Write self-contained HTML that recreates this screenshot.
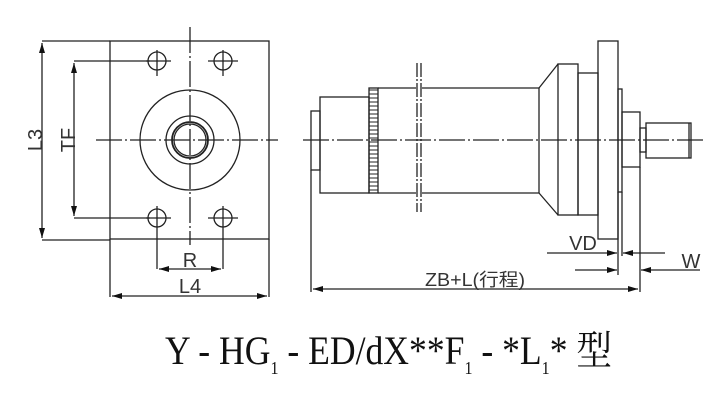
<!DOCTYPE html>
<html><head><meta charset="utf-8"><style>html,body{margin:0;padding:0;background:#fff}svg{display:block}</style></head>
<body>
<svg width="718" height="401" viewBox="0 0 718 401" xmlns="http://www.w3.org/2000/svg">
<defs>
<marker id="a" viewBox="0 0 10 6" refX="10" refY="3" markerWidth="10" markerHeight="6" markerUnits="userSpaceOnUse" orient="auto-start-reverse"><path d="M0,0 L10,3 L0,6 z" fill="#111"/></marker>
</defs>
<g stroke="#222" stroke-width="1.3" fill="none">
<rect x="110" y="41" width="159" height="198"/>
<line x1="110" y1="239" x2="110" y2="297"/>
<line x1="269" y1="239" x2="269" y2="297"/>
<line x1="42" y1="41" x2="110" y2="41"/>
<line x1="42" y1="240" x2="110" y2="240"/>
<line x1="42" y1="43" x2="42" y2="238" marker-start="url(#a)" marker-end="url(#a)"/>
<line x1="74" y1="61" x2="150" y2="61"/>
<line x1="74" y1="218" x2="150" y2="218"/>
<line x1="74" y1="63" x2="74" y2="216" marker-start="url(#a)" marker-end="url(#a)"/>
<circle cx="157" cy="61" r="9"/><circle cx="223" cy="61" r="9"/>
<circle cx="157" cy="218" r="9"/><circle cx="223" cy="218" r="9"/>
<line x1="146" y1="61" x2="171" y2="61"/><line x1="157" y1="50" x2="157" y2="76"/>
<line x1="208" y1="61" x2="238" y2="61"/><line x1="223" y1="50" x2="223" y2="76"/>
<line x1="146" y1="218" x2="171" y2="218"/><line x1="157" y1="206" x2="157" y2="269"/>
<line x1="208" y1="218" x2="238" y2="218"/><line x1="223" y1="206" x2="223" y2="269"/>
<circle cx="190" cy="140" r="50"/>
<circle cx="190" cy="140" r="24"/>
<circle cx="190" cy="140" r="18" stroke-width="1.8"/>
<circle cx="190" cy="140" r="16"/>
<line x1="190" y1="27" x2="190" y2="245" stroke-dasharray="26,3,2,3"/>
<line x1="96" y1="140" x2="278" y2="140" stroke-dasharray="26,3,2,3"/>
<line x1="159" y1="269" x2="221" y2="269" marker-start="url(#a)" marker-end="url(#a)"/>
<line x1="112" y1="296" x2="267" y2="296" marker-start="url(#a)" marker-end="url(#a)"/>
<line x1="303" y1="140" x2="705" y2="140" stroke-dasharray="26,3,2,3"/>
<rect x="311" y="111" width="9" height="59"/>
<rect x="320" y="97" width="49" height="96"/>
<rect x="369" y="88" width="9" height="105"/>
<line x1="378" y1="88" x2="416" y2="88"/><line x1="422" y1="88" x2="539" y2="88"/>
<line x1="378" y1="193" x2="416" y2="193"/><line x1="422" y1="193" x2="539" y2="193"/>
<line x1="417" y1="63" x2="417" y2="212" stroke-dasharray="14,2,2,2"/>
<line x1="421" y1="63" x2="421" y2="212" stroke-dasharray="14,2,2,2"/>
<line x1="539" y1="88" x2="539" y2="193"/>
<line x1="539" y1="88" x2="558" y2="64"/><line x1="539" y1="193" x2="558" y2="215"/>
<rect x="558" y="64" width="20" height="151"/>
<rect x="578" y="73" width="20" height="142"/>
<rect x="598" y="41" width="20" height="198"/>
<rect x="618" y="89" width="4" height="103"/>
<line x1="618" y1="192" x2="618" y2="275"/>
<rect x="622" y="112" width="18" height="55"/>
<rect x="640" y="128" width="6" height="24"/>
<rect x="646" y="123" width="45" height="35"/>
<line x1="689" y1="123" x2="689" y2="158"/>
<line x1="311" y1="170" x2="311" y2="292"/>
<line x1="640" y1="167" x2="640" y2="292"/>
<line x1="622" y1="192" x2="622" y2="256"/>
<line x1="547" y1="253" x2="617" y2="253" marker-end="url(#a)"/>
<line x1="665" y1="253" x2="623" y2="253" marker-end="url(#a)"/>
<line x1="575" y1="270" x2="617" y2="270" marker-end="url(#a)"/>
<line x1="700" y1="270" x2="641" y2="270" marker-end="url(#a)"/>
<line x1="313" y1="289" x2="638" y2="289" marker-start="url(#a)" marker-end="url(#a)"/>
</g>
<g stroke="#222" stroke-width="1">
<line x1="369" y1="90" x2="378" y2="90"/><line x1="369" y1="94" x2="378" y2="94"/><line x1="369" y1="98" x2="378" y2="98"/><line x1="369" y1="102" x2="378" y2="102"/><line x1="369" y1="106" x2="378" y2="106"/><line x1="369" y1="110" x2="378" y2="110"/><line x1="369" y1="114" x2="378" y2="114"/><line x1="369" y1="118" x2="378" y2="118"/><line x1="369" y1="122" x2="378" y2="122"/><line x1="369" y1="126" x2="378" y2="126"/><line x1="369" y1="130" x2="378" y2="130"/><line x1="369" y1="134" x2="378" y2="134"/><line x1="369" y1="138" x2="378" y2="138"/><line x1="369" y1="142" x2="378" y2="142"/><line x1="369" y1="146" x2="378" y2="146"/><line x1="369" y1="150" x2="378" y2="150"/><line x1="369" y1="154" x2="378" y2="154"/><line x1="369" y1="158" x2="378" y2="158"/><line x1="369" y1="162" x2="378" y2="162"/><line x1="369" y1="166" x2="378" y2="166"/><line x1="369" y1="170" x2="378" y2="170"/><line x1="369" y1="174" x2="378" y2="174"/><line x1="369" y1="178" x2="378" y2="178"/><line x1="369" y1="182" x2="378" y2="182"/><line x1="369" y1="186" x2="378" y2="186"/><line x1="369" y1="190" x2="378" y2="190"/>
</g>
<g font-family="Liberation Sans, sans-serif" fill="#333" font-size="20">
<text x="0" y="0" transform="translate(42,140) rotate(-90)" text-anchor="middle">L3</text>
<text x="0" y="0" transform="translate(75,140) rotate(-90)" text-anchor="middle">TF</text>
<text x="190" y="267" text-anchor="middle">R</text>
<text x="190" y="293" text-anchor="middle">L4</text>
<text x="583" y="250" text-anchor="middle">VD</text>
<text x="691" y="268" text-anchor="middle">W</text>
<text x="475" y="286" text-anchor="middle" font-family="Liberation Sans, Noto Sans CJK SC, sans-serif" font-size="18" textLength="100" lengthAdjust="spacingAndGlyphs">ZB+L(行程)</text>
</g>
<text x="165" y="364" font-family="Liberation Serif, Noto Serif CJK SC, serif" font-size="40" fill="#111" textLength="447" lengthAdjust="spacingAndGlyphs">Y - HG<tspan font-size="18" dy="10">1</tspan><tspan dy="-10"> - ED/dX**F</tspan><tspan font-size="18" dy="10">1</tspan><tspan dy="-10"> - *L</tspan><tspan font-size="18" dy="10">1</tspan><tspan dy="-10">* 型</tspan></text>
</svg>
</body></html>
